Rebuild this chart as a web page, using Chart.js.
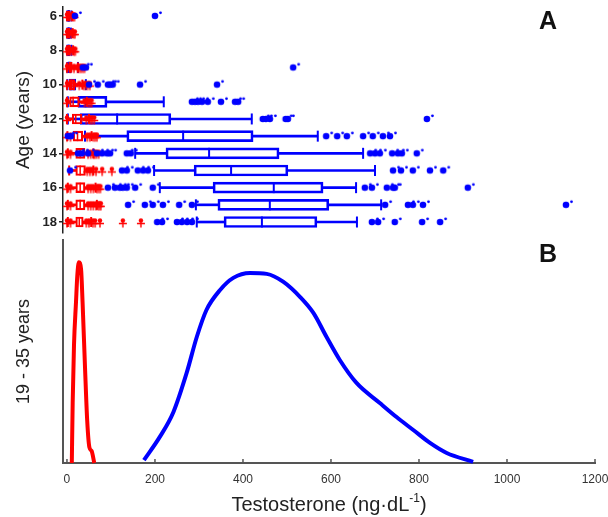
<!DOCTYPE html>
<html>
<head>
<meta charset="utf-8">
<script src="https://cdn.jsdelivr.net/npm/chart.js@4.4.1/dist/chart.umd.min.js"></script>
<style>
  html, body { margin: 0; padding: 0; background: #fff; }
  #wrapA { position: absolute; left: 0; top: 0; width: 608px; height: 236px; }
  #wrapB { position: absolute; left: 0; top: 236px; width: 608px; height: 281px; }
</style>
</head>
<body>
<div id="wrapA"><canvas id="panelA"></canvas></div>
<div id="wrapB"><canvas id="panelB"></canvas></div>
<script>
// ---- Panel A: testosterone by age (ng/dL), box plots ----
const AGES = [6, 7, 8, 9, 10, 11, 12, 13, 14, 15, 16, 17, 18];
const AGE_TICKS = [6, 8, 10, 12, 14, 16, 18];

// boys (blue)
const BOYS_LOW  = [1, 1, 1, 1, 1, 2, 2, 41, 155, 198, 211, 293, 295];
const BOYS_Q1   = [2, 2, 2, 3, 5, 25, 30, 136, 225, 289, 332, 343, 357];
const BOYS_MED  = [4, 4, 4, 6, 10, 43, 114, 264, 323, 373, 470, 461, 443];
const BOYS_Q3   = [6, 6, 6, 10, 20, 91, 236, 423, 482, 502, 582, 595, 568];
const BOYS_HIGH = [10, 9, 10, 25, 43, 220, 420, 570, 673, 700, 657, 714, 659];
const BOYS_OUT = [
  [18, 200],
  [],
  [],
  [36, 43, 514],
  [50, 70, 93, 98, 104, 166, 341],
  [284, 291, 298, 307, 320, 350, 382, 389],
  [445, 452, 461, 497, 502, 818],
  [2, 9, 589, 614, 636, 673, 695, 718, 734],
  [25, 34, 48, 68, 80, 91, 98, 136, 145, 689, 700, 711, 739, 752, 761, 795],
  [7, 125, 136, 161, 173, 184, 741, 759, 786, 825, 855],
  [93, 109, 120, 127, 136, 155, 195, 677, 693, 727, 741, 745, 911],
  [139, 177, 195, 218, 255, 284, 723, 775, 786, 809, 1134],
  [205, 216, 250, 261, 273, 284, 693, 707, 745, 807, 848]
];

// girls (red)
const GIRLS_LOW  = [0, 0, 0, 0, 0, 0, 0, 1, 2, 5, 2, 2, 2];
const GIRLS_Q1   = [2, 2, 3, 4, 5, 6, 12, 14, 20, 20, 20, 20, 20];
const GIRLS_MED  = [4, 4, 5, 7, 10, 14, 20, 24, 30, 30, 30, 30, 28];
const GIRLS_Q3   = [7, 7, 8, 12, 18, 28, 34, 36, 41, 42, 41, 41, 37];
const GIRLS_HIGH = [12, 13, 14, 25, 35, 45, 50, 56, 60, 60, 65, 68, 55];
const GIRLS_OUT = [
  [0, 5, 10, 14, 17],
  [0, 5, 10, 15, 18],
  [0, 5, 10, 16, 19],
  [0, 8, 16, 24, 28, 32, 36, 40],
  [0, 8, 16, 28, 38, 42, 47, 52],
  [0, 40, 48, 52, 56],
  [0, 44, 53, 57, 62],
  [0, 8, 46, 52, 60, 64, 68],
  [0, 8, 48, 54, 60, 63, 67, 72],
  [46, 52, 58, 66, 80, 102],
  [0, 8, 48, 54, 60, 68, 72, 76],
  [0, 8, 48, 54, 60, 66, 71, 74, 77],
  [0, 8, 44, 50, 59, 64, 75, 127, 168]
];

// ---- Panel B: 19-35 years, smoothed distributions ----
const X_TICKS = [0, 200, 400, 600, 800, 1000, 1200];
const MEN_T    = [175, 211, 242, 272, 295, 317, 348, 378, 416, 454, 492, 530, 560, 590, 620, 658, 711, 749, 787, 825, 863, 923];
const MEN_DENS = [0.013, 0.117, 0.229, 0.404, 0.565, 0.686, 0.776, 0.830, 0.852, 0.848, 0.812, 0.744, 0.673, 0.565, 0.462, 0.359, 0.269, 0.206, 0.148, 0.090, 0.045, 0.005];
const WOMEN_T    = [11, 13, 16, 20.5, 23.5, 27, 32, 35.5, 41, 46, 51, 56, 62];
const WOMEN_DENS = [0, 0.27, 0.53, 0.72, 0.84, 0.90, 0.87, 0.72, 0.43, 0.19, 0.07, 0.054, 0];

const BLUE = '#0000ff';
const RED = '#ff0000';
const FONT = '"Liberation Sans", Arial, sans-serif';
Chart.defaults.font.family = FONT;

// marker for boys' outliers: filled dot with a small satellite dot
function makeBlueMarker() {
  const c = document.createElement('canvas');
  c.width = 20; c.height = 14;
  const g = c.getContext('2d');
  g.fillStyle = BLUE;
  g.beginPath(); g.arc(10, 7, 3.3, 0, Math.PI * 2); g.fill();
  g.beginPath(); g.arc(15.5, 3.8, 1.4, 0, Math.PI * 2); g.fill();
  return c;
}
// marker for girls' points: plus sign topped by a small dot
function makeRedMarker() {
  const c = document.createElement('canvas');
  c.width = 12; c.height = 16;
  const g = c.getContext('2d');
  g.strokeStyle = RED; g.fillStyle = RED; g.lineWidth = 1.4;
  g.beginPath();
  g.moveTo(2, 9.5); g.lineTo(10, 9.5);
  g.moveTo(6, 5.5); g.lineTo(6, 13.5);
  g.stroke();
  g.beginPath(); g.arc(6, 6.5, 2.2, 0, Math.PI * 2); g.fill();
  return c;
}

const rowPoints = vals => AGES.map((a, i) => ({ x: vals[i], y: a }));
const outPoints = lists => AGES.flatMap((a, i) => lists[i].map(v => ({ x: v, y: a })));
const spans = (lo, hi) => AGES.map((a, i) => ({ x: [lo[i], hi[i]], y: a }));

function boxDatasets(color, low, q1, med, q3, high, thick, lw, baseOrder) {
  return [
    { type: 'bar', indexAxis: 'y', data: spans(q1, q3), grouped: false, barThickness: thick,
      backgroundColor: 'rgba(255,255,255,0)', borderColor: color, borderWidth: lw, borderSkipped: false,
      order: baseOrder },
    { type: 'bar', indexAxis: 'y', data: spans(low, q1), grouped: false, barThickness: 2,
      backgroundColor: color, borderWidth: 0, order: baseOrder },
    { type: 'bar', indexAxis: 'y', data: spans(q3, high), grouped: false, barThickness: 2,
      backgroundColor: color, borderWidth: 0, order: baseOrder },
    { type: 'scatter', data: rowPoints(med), pointStyle: 'line', pointRotation: 90,
      pointRadius: thick / 2, pointBorderColor: color, pointBorderWidth: lw, clip: false, order: baseOrder - 1 },
    { type: 'scatter', data: rowPoints(low).concat(rowPoints(high)), pointStyle: 'line', pointRotation: 90,
      pointRadius: thick / 2, pointBorderColor: color, pointBorderWidth: 2, clip: false, order: baseOrder - 1 }
  ];
}

// draws the bold panel letter in the upper right corner
const panelLetter = {
  id: 'panelLetter',
  afterDraw(chart, args, opts) {
    const { ctx, chartArea } = chart;
    ctx.save();
    ctx.font = 'bold 25px ' + FONT;
    ctx.fillStyle = '#111';
    ctx.textAlign = 'center';
    ctx.textBaseline = 'middle';
    ctx.fillText(opts.text, chartArea.right - 47, chartArea.top + 15);
    ctx.restore();
  }
};

new Chart(document.getElementById('panelA'), {
  type: 'bar',
  data: {
    datasets: [
      { type: 'scatter', data: outPoints(BOYS_OUT), pointStyle: makeBlueMarker(), clip: false, order: 0 },
      { type: 'scatter', data: outPoints(GIRLS_OUT), pointStyle: makeRedMarker(), clip: false, order: 1 },
      ...boxDatasets(RED, GIRLS_LOW, GIRLS_Q1, GIRLS_MED, GIRLS_Q3, GIRLS_HIGH, 10, 1.5, 3),
      ...boxDatasets(BLUE, BOYS_LOW, BOYS_Q1, BOYS_MED, BOYS_Q3, BOYS_HIGH, 11, 2, 6)
    ]
  },
  options: {
    responsive: true,
    maintainAspectRatio: false,
    animation: false,
    events: [],
    layout: { autoPadding: false, padding: { left: 0, right: 13, top: 7, bottom: 3 } },
    plugins: { legend: { display: false }, tooltip: { enabled: false }, panelLetter: { text: 'A' } },
    scales: {
      x: { type: 'linear', min: -9, max: 1200, offset: false, display: false, grid: { offset: false } },
      y: {
        type: 'linear', reverse: true, min: 5.48, max: 18.64, position: 'left', offset: false,
        afterBuildTicks: s => { s.ticks = AGE_TICKS.map(v => ({ value: v })); },
        afterFit: s => { s.width = 63; s.paddingTop = 0; s.paddingBottom = 0; },
        grid: { display: true, offset: false, drawOnChartArea: false, drawTicks: true, tickLength: 4, color: '#222', lineWidth: 1.5 },
        border: { display: true, color: '#222', width: 1.5 },
        ticks: { font: { size: 13, weight: 'bold' }, color: '#222', padding: 2 },
        title: { display: true, text: 'Age (years)', font: { size: 19 }, color: '#222', padding: { top: 12.6, bottom: 0 } }
      }
    }
  },
  plugins: [panelLetter]
});

// short tick marks pointing into the plot area
const innerTicks = {
  id: 'innerTicks',
  afterDraw(chart) {
    const { ctx, chartArea } = chart;
    const s = chart.scales.x;
    ctx.save();
    ctx.strokeStyle = '#555';
    ctx.lineWidth = 1.5;
    s.ticks.forEach(t => {
      const px = s.getPixelForValue(t.value);
      ctx.beginPath();
      ctx.moveTo(px, chartArea.bottom);
      ctx.lineTo(px, chartArea.bottom - 4);
      ctx.stroke();
    });
    ctx.restore();
  }
};

// x axis title with a superscript unit exponent
const unitTitle = {
  id: 'unitTitle',
  afterDraw(chart) {
    const { ctx, chartArea } = chart;
    const main = 'Testosterone (ng\u00b7dL', sup = '-1', close = ')';
    const big = '20px ' + FONT, small = '12px ' + FONT;
    ctx.save();
    ctx.fillStyle = '#222';
    ctx.textBaseline = 'alphabetic';
    ctx.font = big;
    const wMain = ctx.measureText(main).width, wClose = ctx.measureText(close).width;
    ctx.font = small;
    const wSup = ctx.measureText(sup).width;
    const cx = (chartArea.left + chartArea.right) / 2;
    let x = cx - (wMain + wSup + wClose) / 2;
    const base = chartArea.bottom + 48;
    ctx.font = big; ctx.fillText(main, x, base); x += wMain;
    ctx.font = small; ctx.fillText(sup, x, base - 9); x += wSup;
    ctx.font = big; ctx.fillText(close, x, base);
    ctx.restore();
  }
};

const curve = (xs, ys) => xs.map((t, i) => ({ x: t, y: ys[i] }));

new Chart(document.getElementById('panelB'), {
  type: 'scatter',
  data: {
    datasets: [
      { data: curve(WOMEN_T, WOMEN_DENS), showLine: true, borderColor: RED, borderWidth: 4,
        pointRadius: 0, cubicInterpolationMode: 'monotone', clip: false },
      { data: curve(MEN_T, MEN_DENS), showLine: true, borderColor: BLUE, borderWidth: 4,
        pointRadius: 0, cubicInterpolationMode: 'monotone', clip: false }
    ]
  },
  options: {
    responsive: true,
    maintainAspectRatio: false,
    animation: false,
    events: [],
    layout: { autoPadding: false, padding: { left: 0, right: 13, top: 4, bottom: 0 } },
    plugins: { legend: { display: false }, tooltip: { enabled: false }, panelLetter: { text: 'B' } },
    scales: {
      x: {
        type: 'linear', min: -9, max: 1200,
        afterBuildTicks: s => { s.ticks = X_TICKS.map(v => ({ value: v })); },
        afterFit: s => { s.height = 54; s.paddingLeft = 0; s.paddingRight = 0; },
        grid: { display: false, drawTicks: false },
        border: { display: true, color: '#555', width: 2 },
        ticks: { font: { size: 12 }, color: '#333', padding: 9, maxRotation: 0, autoSkip: false,
                 callback: v => String(v) }
      },
      y: {
        type: 'linear', min: 0, max: 1,
        afterFit: s => { s.width = 63; s.paddingTop = 0; s.paddingBottom = 0; },
        grid: { display: false, drawTicks: false },
        border: { display: true, color: '#555', width: 2 },
        ticks: { display: false },
        title: { display: true, text: '19 - 35 years', font: { size: 18 }, color: '#222', padding: { top: 13, bottom: 0 } }
      }
    }
  },
  plugins: [panelLetter, innerTicks, unitTitle]
});
</script>
</body>
</html>
